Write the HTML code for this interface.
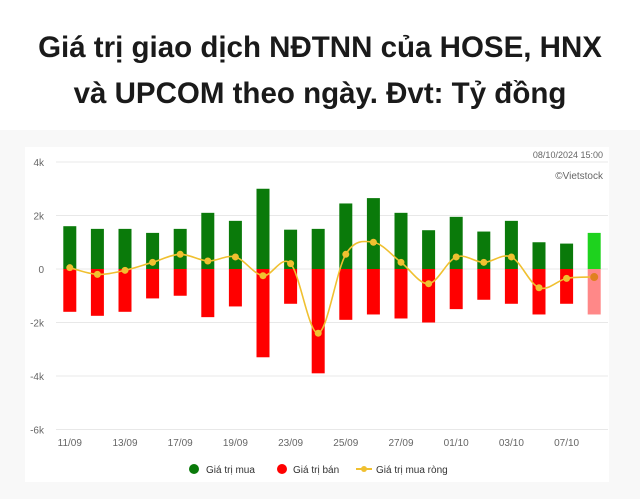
<!DOCTYPE html>
<html><head><meta charset="utf-8"><style>
body{margin:0;width:640px;height:499px;background:#fff;font-family:"Liberation Sans",sans-serif;overflow:hidden}
#title{position:absolute;left:0;top:25px;width:640px;text-align:center;font-weight:bold;font-size:29.5px;line-height:46px;color:#1a1a1a}
</style></head><body>
<div id="title">Giá trị giao dịch NĐTNN của HOSE, HNX<br>và UPCOM theo ngày. Đvt: Tỷ đồng</div>
<svg id="chart" width="640" height="499" style="position:absolute;left:0;top:0" font-family="Liberation Sans, sans-serif">
<rect x="0" y="130" width="640" height="369" fill="#f8f8f8"/>
<rect x="25" y="147" width="584" height="335" fill="#fff"/>
<text x="603" y="158" text-anchor="end" font-size="9" fill="#666">08/10/2024 15:00</text>
<line x1="56" x2="608" y1="162" y2="162" stroke="#e6e6e6"/>
<text x="603" y="179" text-anchor="end" font-size="10" fill="#666">©Vietstock</text>
<g id="grid"></g><g id="bars"></g><g id="line"></g><g id="xaxis"></g>
<g font-size="10" fill="#333">
<circle cx="194" cy="469" r="5" fill="#0a7a0a"/><text x="206" y="473">Giá trị mua</text>
<circle cx="282" cy="469" r="5" fill="#f00"/><text x="293" y="473">Giá trị bán</text>
<line x1="356" x2="372" y1="469" y2="469" stroke="#f0c030" stroke-width="2"/><circle cx="364" cy="469" r="3" fill="#f0c030"/>
<text x="376" y="473">Giá trị mua ròng</text>
</g>
</svg>
<script>
const categories=["11/09","12/09","13/09","16/09","17/09","18/09","19/09","20/09","23/09","24/09","25/09","26/09","27/09","30/09","01/10","02/10","03/10","04/10","07/10","08/10"];
const buyValues=[1.6,1.5,1.5,1.35,1.5,2.1,1.8,3.0,1.47,1.5,2.45,2.65,2.1,1.45,1.95,1.4,1.8,1.0,0.95,1.35];
const sellValues=[-1.6,-1.75,-1.6,-1.1,-1.0,-1.8,-1.4,-3.3,-1.3,-3.9,-1.9,-1.7,-1.85,-2.0,-1.5,-1.15,-1.3,-1.7,-1.3,-1.7];
const netValues=[0.05,-0.2,-0.05,0.25,0.55,0.3,0.45,-0.25,0.2,-2.4,0.55,1.0,0.25,-0.55,0.45,0.25,0.45,-0.7,-0.35,-0.3];
const yTicks=[4,2,0,-2,-4,-6];
const NS="http://www.w3.org/2000/svg";
const y=v=>269-v*26.75;
const x=i=>56+27.6*(i+0.5);
function mk(t,a,p){const e=document.createElementNS(NS,t);for(const k in a)e.setAttribute(k,a[k]);p.appendChild(e);return e;}
const grid=document.getElementById('grid');
yTicks.forEach(t=>{
 const l=mk('line',{x1:56,x2:608,y1:y(t),y2:y(t),stroke:'#e8e8e8'},grid);
 
 
 const tx=mk('text',{x:44,y:y(t)+4,'text-anchor':'end','font-size':10,fill:'#666'},grid);
 tx.textContent=t===0?'0':t+'k';
 
 
});
const bars=document.getElementById('bars');
const last=categories.length-1;
categories.forEach((c,i)=>{
 const b=mk('rect',{x:x(i)-6.5,width:13,y:y(buyValues[i]),height:y(0)-y(buyValues[i]),fill:i===last?'#1ed21e':'#0a7a0a'},bars);
 
 
 const s=mk('rect',{x:x(i)-6.5,width:13,y:y(0),height:y(sellValues[i])-y(0),fill:i===last?'#f88':'#f00'},bars);
 
 
 if(i%2===0){
  const t=mk('text',{x:x(i),y:446,'text-anchor':'middle','font-size':10,fill:'#666'},document.getElementById('xaxis'));
  t.textContent=c;
  
  
 }
});
const pts=netValues.map((v,i)=>[x(i),y(v)]);
let d='M'+pts[0].join(',');
for(let i=0;i<pts.length-1;i++){
 const p0=pts[Math.max(0,i-1)],p1=pts[i],p2=pts[i+1],p3=pts[Math.min(pts.length-1,i+2)];
 const c1=[p1[0]+(p2[0]-p0[0])/6,p1[1]+(p2[1]-p0[1])/6],c2=[p2[0]-(p3[0]-p1[0])/6,p2[1]-(p3[1]-p1[1])/6];
 d+=`C${c1} ${c2} ${p2}`;
}
const lg=document.getElementById('line');
const path=mk('path',{d:d,fill:'none',stroke:'#f0c030','stroke-width':1.6},lg);


pts.forEach((p,i)=>{
 const c=mk('circle',{cx:p[0],cy:p[1],r:i===last?4:3.5,fill:i===last?'#e08020':'#f0c030'},lg);
 
 
});
</script>
</body></html>
